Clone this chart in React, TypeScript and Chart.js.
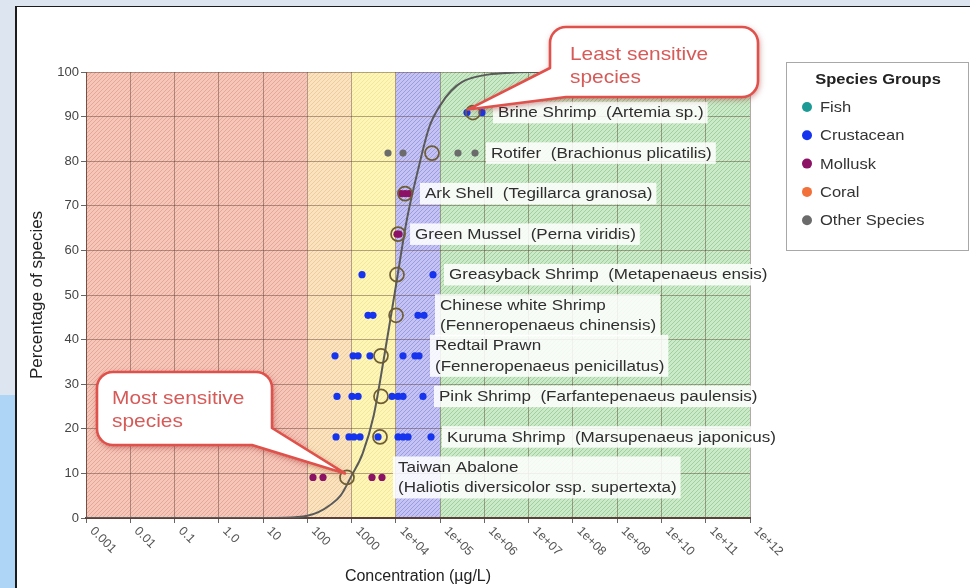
import React, { useEffect, useRef } from 'react';
import { Chart, registerables } from 'chart.js';

Chart.register(...registerables);

const FONT = '"Liberation Sans", Arial, Helvetica, sans-serif';

// ---- axes ----
const xTickValues = [1e-3, 1e-2, 1e-1, 1, 10, 100, 1000, 1e4, 1e5, 1e6, 1e7, 1e8, 1e9, 1e10, 1e11, 1e12];
const xTickLabels = ['0.001', '0.01', '0.1', '1.0', '10', '100', '1000', '1e+04', '1e+05', '1e+06', '1e+07', '1e+08', '1e+09', '1e+10', '1e+11', '1e+12'];

// ---- hazard bands (concentration edges) ----
const bandEdges = [1e-3, 100, 1000, 1e4, 1e5, 1e12];
const bandFills = ['#f6c6b8', '#fbe3c0', '#fdf6b4', '#c4c3f3', '#cbeac7'];
const bandHatch = ['#df9f90', '#e9c996', '#efe39a', '#9090da', '#96c895'];

// ---- legend groups ----
const groupNames = ['Fish', 'Crustacean', 'Mollusk', 'Coral', 'Other Species'];
const groupColors = ['#1b9a96', '#1634ee', '#8c1266', '#f2703a', '#6b6b6b'];

// ---- species ----
const speciesNames = [
  ['Taiwan Abalone', '(Haliotis diversicolor ssp. supertexta)'],
  ['Kuruma Shrimp  (Marsupenaeus japonicus)'],
  ['Pink Shrimp  (Farfantepenaeus paulensis)'],
  ['Redtail Prawn', '(Fenneropenaeus penicillatus)'],
  ['Chinese white Shrimp', '(Fenneropenaeus chinensis)'],
  ['Greasyback Shrimp  (Metapenaeus ensis)'],
  ['Green Mussel  (Perna viridis)'],
  ['Ark Shell  (Tegillarca granosa)'],
  ['Rotifer  (Brachionus plicatilis)'],
  ['Brine Shrimp  (Artemia sp.)'],
];
const speciesGroups = ['Mollusk', 'Crustacean', 'Crustacean', 'Crustacean', 'Crustacean', 'Crustacean', 'Mollusk', 'Mollusk', 'Other Species', 'Crustacean'];
const speciesPercent = [9.09, 18.18, 27.27, 36.36, 45.45, 54.55, 63.64, 72.73, 81.82, 90.91];

// toxicity values (µg/L)
const taiwanAbalone = [134, 226, 2890, 4860];
const kurumaShrimp = [445, 873, 1130, 1550, 3950, 11200, 14500, 18800, 62200];
const pinkShrimp = [468, 1020, 1400, 8180, 11200, 14500, 41000];
const redtailPrawn = [422, 1080, 1400, 2600, 14500, 27000, 33300];
const chineseWhiteShrimp = [2350, 3040, 31600, 43200];
const greasybackShrimp = [1720, 69000];
const greenMussel = [10600, 11800];
const arkShell = [13100, 16100, 19800];
const rotifer = [6640, 14500, 253000, 614000];
const brineShrimp = [404000, 883000];
const speciesValues = [taiwanAbalone, kurumaShrimp, pinkShrimp, redtailPrawn, chineseWhiteShrimp, greasybackShrimp, greenMussel, arkShell, rotifer, brineShrimp];

// species mean values (hollow circles)
const speciesMeans = [787, 4380, 4610, 4610, 10100, 10600, 11200, 16100, 65500, 552000];

// fitted species sensitivity curve
const curveConcentration = [0.001, 10, 31.6, 100, 178, 316, 562, 1000, 1780, 3160, 5620, 10000, 17800, 31600, 56200, 100000, 178000, 316000, 1000000, 3160000, 10000000, 1e12];
const curvePercent = [0, 0, 0.05, 0.5, 1.3, 2.8, 5.0, 9.5, 14.5, 23, 37, 52, 67, 78, 87.5, 92.5, 95.8, 97.8, 99.3, 99.8, 100, 100];

const SX = 1.1;

function sText(ctx: CanvasRenderingContext2D, text: string, x: number, y: number, sx = SX) {
  ctx.save();
  ctx.translate(x, y);
  ctx.scale(sx, 1);
  ctx.fillText(text, 0, 0);
  ctx.restore();
}

function makePattern(ctx: CanvasRenderingContext2D, fill: string, hatch: string) {
  const c = document.createElement('canvas');
  c.width = 4;
  c.height = 4;
  const g = c.getContext('2d')!;
  g.fillStyle = fill;
  g.fillRect(0, 0, 4, 4);
  g.strokeStyle = hatch;
  g.lineWidth = 0.8;
  g.beginPath();
  g.moveTo(0, 4); g.lineTo(4, 0);
  g.moveTo(-1, 1); g.lineTo(1, -1);
  g.moveTo(3, 5); g.lineTo(5, 3);
  g.stroke();
  return ctx.createPattern(c, 'repeat');
}

const bandsPlugin = {
  id: 'bands',
  beforeDraw(chart: any) {
    const { ctx, chartArea, scales } = chart;
    const xs = scales.x;
    ctx.save();
    for (let i = 0; i < bandFills.length; i++) {
      const x0 = xs.getPixelForValue(bandEdges[i]);
      const x1 = xs.getPixelForValue(bandEdges[i + 1]);
      ctx.fillStyle = makePattern(ctx, bandFills[i], bandHatch[i]) as any;
      ctx.fillRect(x0, chartArea.top, x1 - x0, chartArea.bottom - chartArea.top);
    }
    ctx.restore();
  },
};

function calloutPath(ctx: CanvasRenderingContext2D, x0: number, y0: number, x1: number, y1: number, r: number, corner: 'bl' | 'br', p1: number[], tip: number[], p2: number[]) {
  ctx.beginPath();
  ctx.moveTo(x0, y0 + r);
  ctx.arcTo(x0, y0, x0 + r, y0, r);
  ctx.lineTo(x1 - r, y0);
  ctx.arcTo(x1, y0, x1, y0 + r, r);
  if (corner === 'bl') {
    ctx.lineTo(x1, y1 - r);
    ctx.arcTo(x1, y1, x1 - r, y1, r);
    ctx.lineTo(p1[0], p1[1]);
    ctx.lineTo(tip[0], tip[1]);
    ctx.lineTo(p2[0], p2[1]);
  } else {
    ctx.lineTo(p1[0], p1[1]);
    ctx.lineTo(tip[0], tip[1]);
    ctx.lineTo(p2[0], p2[1]);
    ctx.lineTo(x0 + r, y1);
    ctx.arcTo(x0, y1, x0, y1 - r, r);
  }
  ctx.closePath();
}

function drawCallout(ctx: CanvasRenderingContext2D, box: number[], corner: 'bl' | 'br', p1: number[], tip: number[], p2: number[], lines: string[], tx: number, ty: number) {
  const [x0, y0, x1, y1] = box;
  ctx.save();
  calloutPath(ctx, x0, y0, x1, y1, 16, corner, p1, tip, p2);
  ctx.shadowColor = 'rgba(150,30,30,0.55)';
  ctx.shadowBlur = 6;
  ctx.shadowOffsetX = 1;
  ctx.shadowOffsetY = 2;
  ctx.fillStyle = '#ffffff';
  ctx.fill();
  ctx.shadowColor = 'transparent';
  ctx.strokeStyle = '#e0514b';
  ctx.lineWidth = 2.6;
  ctx.lineJoin = 'round';
  ctx.stroke();
  ctx.fillStyle = '#d65a57';
  ctx.font = `19px ${FONT}`;
  ctx.textAlign = 'left';
  ctx.textBaseline = 'alphabetic';
  lines.forEach((l, i) => sText(ctx, l, tx, ty + i * 23));
  ctx.restore();
}

const overlayPlugin = {
  id: 'overlay',
  afterDatasetsDraw(chart: any) {
    const { ctx, scales } = chart;
    const xs = scales.x;
    const ys = scales.y;
    ctx.save();
    ctx.font = `15.5px ${FONT}`;
    ctx.textAlign = 'left';
    ctx.textBaseline = 'middle';
    speciesNames.forEach((lines, i) => {
      const x = xs.getPixelForValue(Math.max(...speciesValues[i])) + 16;
      const y = ys.getPixelForValue(speciesPercent[i]);
      const lh = 20.5;
      const w = Math.max(...lines.map((l) => ctx.measureText(l).width)) * SX;
      const top = y - (lines.length * lh) / 2;
      ctx.fillStyle = 'rgba(255,255,255,0.86)';
      ctx.fillRect(x - 5, top - 0.5, w + 9, lines.length * lh + 1);
      ctx.fillStyle = '#2e2e2e';
      lines.forEach((l, k) => sText(ctx, l, x, top + lh / 2 + k * lh + 0.5));
    });
    ctx.restore();
  },
  afterDraw(chart: any) {
    const { ctx, scales, chartArea } = chart;
    const xs = scales.x;
    const ys = scales.y;

    // x tick labels (rotated)
    ctx.save();
    ctx.font = `12.5px ${FONT}`;
    ctx.fillStyle = '#555';
    ctx.textAlign = 'left';
    ctx.textBaseline = 'middle';
    xTickValues.forEach((v, i) => {
      const px = xs.getPixelForValue(v);
      ctx.save();
      ctx.translate(px + 6, chartArea.bottom + 11);
      ctx.rotate(Math.PI / 4);
      ctx.fillText(xTickLabels[i], 0, 0);
      ctx.restore();
    });
    ctx.restore();

    // callouts
    const last = speciesMeans.length - 1;
    const bx = xs.getPixelForValue(speciesMeans[last]);
    const by = ys.getPixelForValue(speciesPercent[last]);
    drawCallout(ctx, [550, 27, 758, 97], 'bl', [566, 97], [bx - 5, by - 3], [550, 68], ['Least sensitive', 'species'], 570, 60);
    const ax = xs.getPixelForValue(speciesMeans[0]);
    const ay = ys.getPixelForValue(speciesPercent[0]);
    drawCallout(ctx, [97, 372, 272, 445], 'br', [272, 428], [ax - 2, ay - 4], [252, 445], ['Most sensitive', 'species'], 112, 404);

    // legend
    ctx.save();
    ctx.fillStyle = '#ffffff';
    ctx.fillRect(786, 62, 182, 188);
    ctx.strokeStyle = '#a8a8a8';
    ctx.lineWidth = 1;
    ctx.strokeRect(786.5, 62.5, 182, 188);
    ctx.fillStyle = '#222';
    ctx.font = `bold 15px ${FONT}`;
    ctx.textAlign = 'center';
    ctx.textBaseline = 'middle';
    sText(ctx, 'Species Groups', 878, 80);
    ctx.textAlign = 'left';
    ctx.font = `15px ${FONT}`;
    const groups = chart.data.datasets.filter((d: any) => groupNames.includes(d.label));
    groups.forEach((d: any, i: number) => {
      const y = 107 + i * 28.3;
      ctx.beginPath();
      ctx.arc(807, y, 5, 0, Math.PI * 2);
      ctx.fillStyle = d.pointBackgroundColor;
      ctx.fill();
      ctx.fillStyle = '#333';
      sText(ctx, d.label, 820, y + 1);
    });
    ctx.restore();
  },
};

export default function App() {
  const ref = useRef<HTMLCanvasElement | null>(null);

  useEffect(() => {
    document.body.style.margin = '0';
    const canvas = ref.current!;

    const groupDatasets = groupNames.map((g, gi) => {
      const pts: { x: number; y: number }[] = [];
      speciesGroups.forEach((sg, si) => {
        if (sg === g) speciesValues[si].forEach((v) => pts.push({ x: v, y: speciesPercent[si] }));
      });
      return {
        label: g,
        data: pts,
        pointRadius: 3.6,
        pointBackgroundColor: groupColors[gi],
        pointBorderColor: groupColors[gi],
        pointBorderWidth: 0,
        showLine: false,
        order: 1,
      };
    });

    const chart = new Chart(canvas, {
      type: 'scatter',
      data: {
        datasets: [
          ...groupDatasets,
          {
            label: 'Species mean',
            data: speciesMeans.map((v, i) => ({ x: v, y: speciesPercent[i] })),
            pointRadius: 7,
            pointBackgroundColor: 'rgba(0,0,0,0)',
            pointBorderColor: '#6f5d33',
            pointBorderWidth: 1.7,
            showLine: false,
            order: 0,
          },
          {
            label: 'Fitted curve',
            data: curveConcentration.map((v, i) => ({ x: v, y: curvePercent[i] })),
            showLine: true,
            pointRadius: 0,
            borderColor: '#5a5a5a',
            borderWidth: 2,
            cubicInterpolationMode: 'monotone',
            fill: false,
            order: 2,
          },
        ] as any,
      },
      options: {
        animation: false,
        responsive: false,
        maintainAspectRatio: false,
        events: [],
        layout: { padding: { left: 20, top: 72, right: 220, bottom: 2 } },
        plugins: {
          legend: { display: false },
          tooltip: { enabled: false },
        },
        scales: {
          x: {
            type: 'logarithmic',
            min: 1e-3,
            max: 1e12,
            afterBuildTicks: (s: any) => {
              s.ticks = xTickValues.map((v) => ({ value: v }));
            },
            afterFit: (s: any) => {
              s.height = 68;
            },
            ticks: { display: false },
            grid: { color: 'rgba(80,50,40,0.42)', lineWidth: 1, tickLength: 5, tickColor: '#666' },
            border: { display: true, color: '#5a4038', width: 2 },
            title: {
              display: true,
              text: 'Concentration (µg/L)',
              color: '#222',
              font: { family: FONT, size: 16 },
              padding: { top: 0, bottom: 0 },
            },
          },
          y: {
            type: 'linear',
            min: 0,
            max: 100,
            afterFit: (s: any) => {
              s.width = 66;
            },
            ticks: { stepSize: 10, color: '#444', font: { family: FONT, size: 13 }, padding: 2 },
            grid: { color: 'rgba(80,50,40,0.42)', lineWidth: 1, tickLength: 5, tickColor: '#666' },
            border: { display: true, color: 'rgba(90,60,50,0.7)', width: 1 },
            title: {
              display: true,
              text: 'Percentage of species',
              color: '#222',
              font: { family: FONT, size: 17 },
              padding: { top: 7, bottom: 0 },
            },
          },
        },
      } as any,
      plugins: [bandsPlugin, overlayPlugin],
    });

    return () => chart.destroy();
  }, []);

  return (
    <div style={{ position: 'fixed', left: 0, top: 0, width: 970, height: 588, background: '#dde6f0', overflow: 'hidden' }}>
      <div style={{ position: 'absolute', left: 0, top: 395, width: 15, height: 193, background: '#afd5f6' }} />
      <div
        style={{
          position: 'absolute',
          left: 15,
          top: 6,
          width: 955,
          height: 582,
          background: '#ffffff',
          borderLeft: '2px solid #1c1c1c',
          borderTop: '1.5px solid #1c1c1c',
          boxSizing: 'border-box',
        }}
      />
      <canvas ref={ref} width={970} height={588} style={{ position: 'absolute', left: 0, top: 0, width: 970, height: 588 }} />
    </div>
  );
}
